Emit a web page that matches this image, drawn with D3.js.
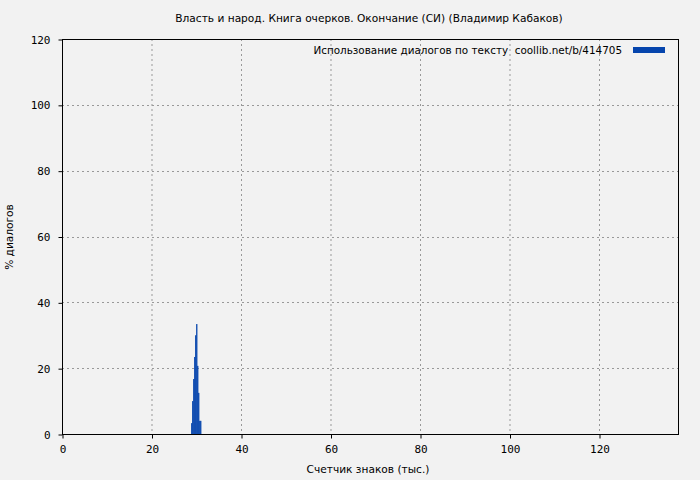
<!DOCTYPE html>
<html>
<head>
<meta charset="utf-8">
<script src="https://cdn.jsdelivr.net/npm/d3@7"></script>
<style>
  body { margin: 0; background: #f2f2f2; }
  svg { display: block; font-family: "DejaVu Sans", sans-serif; }
</style>
</head>
<body>
<div id="chart"></div>
<script>
// data: character counter (thousands) vs % of dialogue
var binStart = [28.85, 29.07, 29.30, 29.52, 29.74, 29.97, 30.19, 30.41, 30.64, 30.86];
var dialogPct = [3.3, 10, 16.7, 23.4, 30, 33.4, 20.7, 12.5, 4, 4];
var binWidth = 0.2235;
var xTicks = [0, 20, 40, 60, 80, 100, 120];
var yTicks = [0, 20, 40, 60, 80, 100, 120];

var titleText = "Власть и народ. Книга очерков. Окончание (СИ) (Владимир Кабаков)";
var legendText = "Использование диалогов по тексту  coollib.net/b/414705";

function init() {
  const W = 700, H = 480;
  const left = 62, right = 678, top = 39, bottom = 434;

  const svg = d3.select('#chart').append('svg')
    .attr('width', W).attr('height', H);

  svg.append('rect').attr('width', W).attr('height', H).attr('fill', '#f2f2f2');

  const xScale = d3.scaleLinear().domain([0, 137.65]).range([left, right]);
  const yScale = d3.scaleLinear().domain([0, 120]).range([bottom, top]);

  // grid
  svg.append('g')
    .selectAll('line')
    .data(xTicks.filter(d => d > 0))
    .enter().append('line')
    .attr('x1', d => xScale(d) + 0.5).attr('x2', d => xScale(d) + 0.5)
    .attr('y1', top).attr('y2', bottom)
    .attr('stroke', '#999').attr('stroke-dasharray', '2,3');

  svg.append('g')
    .selectAll('line')
    .data(yTicks.filter(d => d > 0 && d < 120))
    .enter().append('line')
    .attr('x1', left).attr('x2', right)
    .attr('y1', d => Math.round(yScale(d)) + 0.5).attr('y2', d => Math.round(yScale(d)) + 0.5)
    .attr('stroke', '#999').attr('stroke-dasharray', '2,3');

  // bars
  svg.append('g')
    .selectAll('rect')
    .data(binStart)
    .enter().append('rect')
    .attr('x', d => xScale(d))
    .attr('width', xScale(binWidth) - xScale(0) + 0.3)
    .attr('y', (d, i) => yScale(dialogPct[i]))
    .attr('height', (d, i) => bottom - yScale(dialogPct[i]))
    .attr('fill', '#0645ad');

  // border
  svg.append('rect')
    .attr('x', left + 0.5).attr('y', top + 0.5)
    .attr('width', right - left).attr('height', bottom - top)
    .attr('fill', 'none').attr('stroke', '#000').attr('stroke-width', 1);

  // axes
  const xAxis = svg.append('g')
    .attr('transform', 'translate(0.5,' + (bottom + 0.5) + ')')
    .call(d3.axisBottom(xScale).tickValues(xTicks).tickSize(4).tickPadding(7));
  const yAxis = svg.append('g')
    .attr('transform', 'translate(' + (left + 0.5) + ',0.5)')
    .call(d3.axisLeft(yScale).tickValues(yTicks).tickSize(4).tickPadding(8));

  [xAxis, yAxis].forEach(function(a) {
    a.select('.domain').remove();
    a.selectAll('text').attr('font-size', 11).attr('font-family', '"DejaVu Sans Mono", monospace').attr('fill', '#000');
    a.selectAll('line').attr('stroke', '#000');
  });

  // title and labels
  svg.append('text')
    .attr('x', 369).attr('y', 22)
    .attr('text-anchor', 'middle').attr('font-size', 10.6)
    .text(titleText);

  svg.append('text')
    .attr('x', 368).attr('y', 473)
    .attr('text-anchor', 'middle').attr('font-size', 10.6)
    .text('Счетчик знаков (тыс.)');

  svg.append('text')
    .attr('transform', 'translate(13,237) rotate(-90)')
    .attr('text-anchor', 'middle').attr('font-size', 10.6)
    .text('% диалогов');

  // legend
  svg.append('text')
    .attr('x', 622).attr('y', 54)
    .attr('text-anchor', 'end').attr('font-size', 10.4)
    .attr('xml:space', 'preserve')
    .text(legendText);
  svg.append('rect')
    .attr('x', 633).attr('y', 47).attr('width', 32).attr('height', 6)
    .attr('fill', '#0645ad');
}

window.onload = init;
</script>
</body>
</html>
